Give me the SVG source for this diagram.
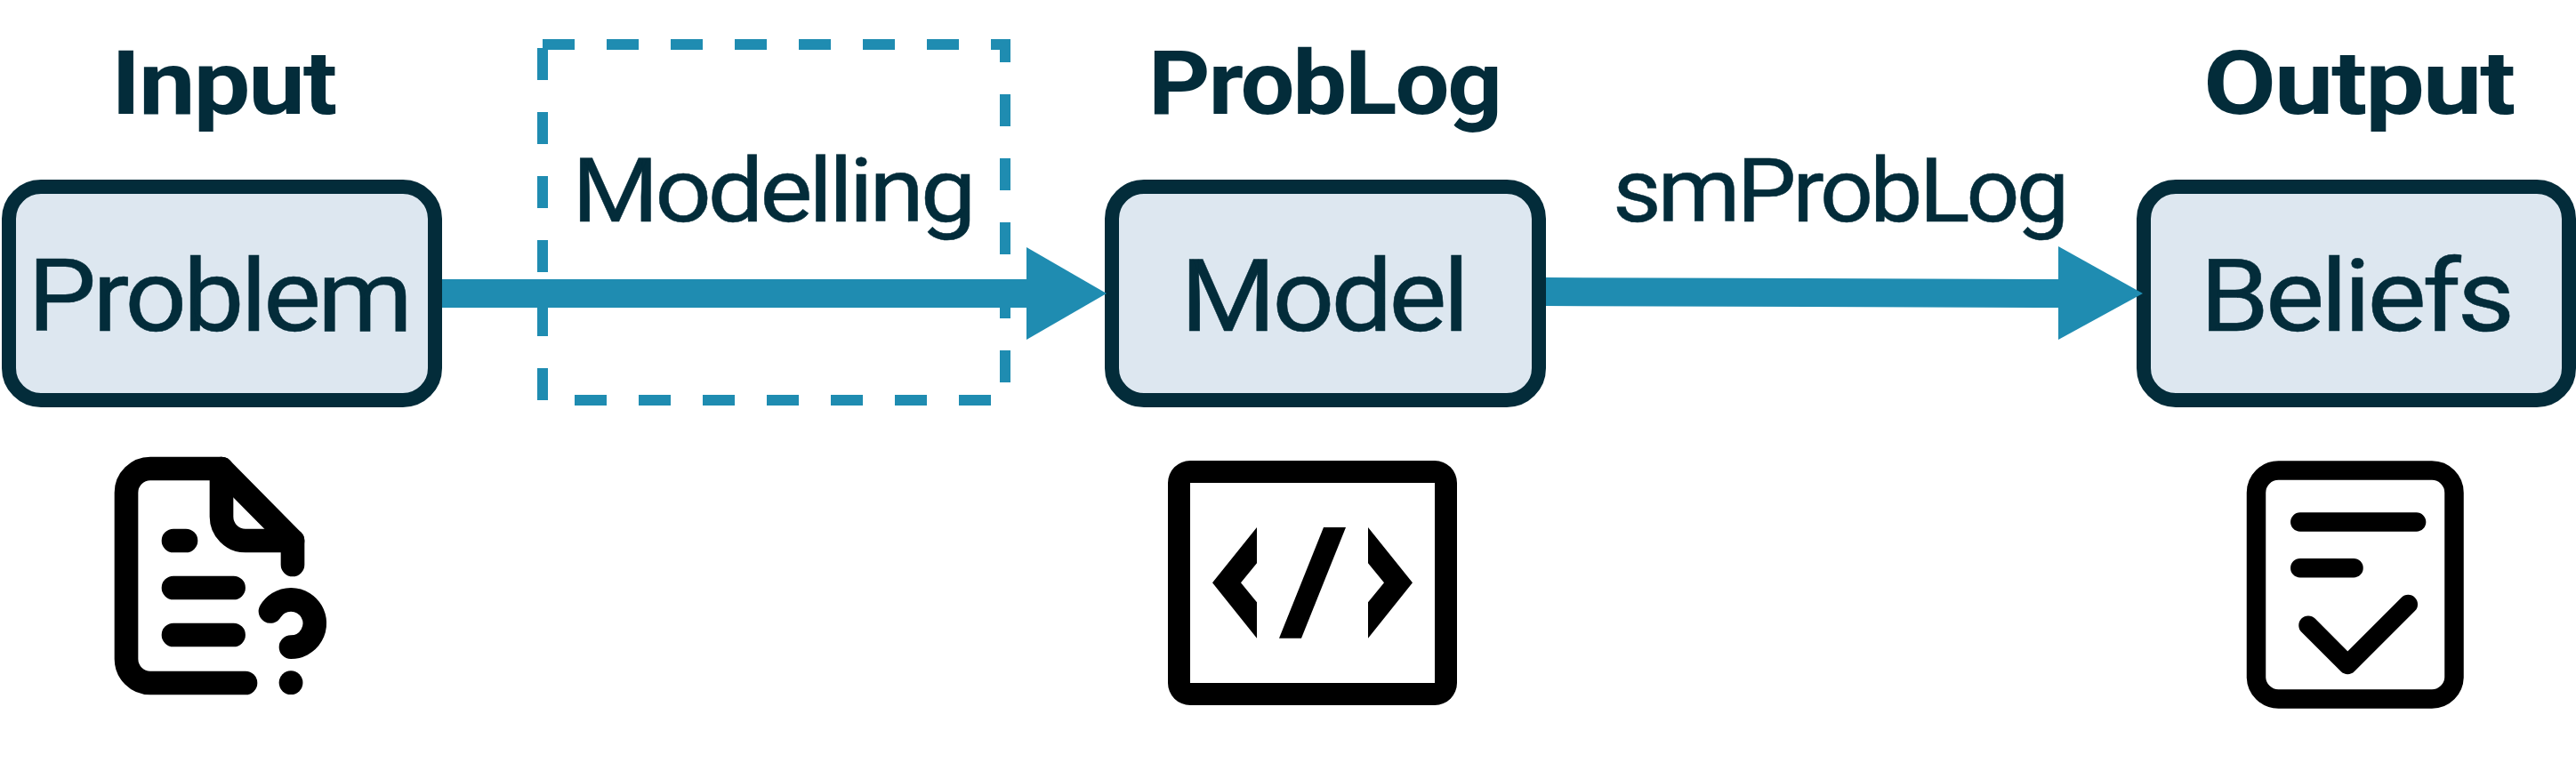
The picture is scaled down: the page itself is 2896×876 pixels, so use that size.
<svg xmlns="http://www.w3.org/2000/svg" width="2896" height="876" viewBox="0 0 2896 876">
<style>
.box{fill:#dde7f0;stroke:#032c3a;stroke-width:16}
.t{font-family:"Roboto","Noto Sans",sans-serif;fill:#032c3a}
.h{font-size:100px;font-weight:700;letter-spacing:-2px}
.n{font-size:114px;letter-spacing:-4px;stroke:#032c3a;stroke-width:.5px}
.l{font-size:100px;letter-spacing:-4px;stroke:#032c3a;stroke-width:.5px}
.c{fill:none;stroke:#1f8cb1}
.a{fill:#1f8cb1}
.i{fill:none;stroke:#000;stroke-linecap:round;stroke-linejoin:round}
</style>
<rect width="2896" height="876" fill="#fff"/>
<g id="modelling">
<rect class="c" x="610" y="50" width="520" height="400" stroke-width="12" stroke-dasharray="36 36"/>
<text class="t l" x="643" y="249" textLength="450" lengthAdjust="spacingAndGlyphs">Modelling</text>
</g>
<g id="input">
<text class="t h" x="125" y="128" textLength="252" lengthAdjust="spacingAndGlyphs">Input</text>
<rect class="box" x="10" y="210" width="479" height="240" rx="36" ry="36"/>
<text class="t n" x="31" y="372" textLength="429" lengthAdjust="spacingAndGlyphs">Problem</text>
<g id="icon-input" class="i" stroke-width="26.67">
<path d="M276 768H169a27 27 0 0 1 -27 -27V554a27 27 0 0 1 27 -27H249L329 608V635"/>
<path d="M249 527V581a27 27 0 0 0 27 27H329"/>
<path d="M195 608H209M195 661H262.6M195 714H262.6"/>
<path d="M327 727.7A26.7 26.7 0 1 0 304 687.5"/>
<path d="M327 767.7h.1"/>
</g>
</g>
<g id="problog">
<text class="t h" x="1291" y="128" textLength="396" lengthAdjust="spacingAndGlyphs">ProbLog</text>
<rect class="box" x="1250" y="210" width="480" height="240" rx="36" ry="36"/>
<text class="t n" x="1327" y="372" textLength="321" lengthAdjust="spacingAndGlyphs">Model</text>
<g id="icon-model">
<path fill-rule="evenodd" d="M1338 518H1613a25 25 0 0 1 25 25V768a25 25 0 0 1 -25 25H1338a25 25 0 0 1 -25 -25V543a25 25 0 0 1 25 -25ZM1338 543V768H1613V543Z"/>
<polygon points="1413,593 1363,655.3 1413,717.7 1413,677.3 1395,655.3 1413,633.3"/>
<polygon points="1488,593 1513,593 1463,717.7 1438,717.7"/>
<polygon points="1538,593 1588,655.3 1538,717.7 1538,677.3 1556,655.3 1538,633.3"/>
</g>
</g>
<g id="output">
<text class="t h" x="2477" y="128" textLength="349" lengthAdjust="spacingAndGlyphs">Output</text>
<rect class="box" x="2410" y="210" width="478" height="240" rx="36" ry="36"/>
<text class="t n" x="2473" y="372" textLength="350" lengthAdjust="spacingAndGlyphs">Beliefs</text>
<g id="icon-output" class="i" stroke-width="21.5">
<rect x="2536.5" y="529" width="222.5" height="257" rx="25" ry="25"/>
<path d="M2585.8 587H2716.6M2585.8 638.7H2646M2595 703.2L2639.3 747.5L2707.3 679.5"/>
</g>
</g>
<g id="connectors">
<path class="c" d="M497 330H1156" stroke-width="32"/>
<polygon class="a" points="1154,278 1244,330 1154,382"/>
<path class="a" d="M1738 312L2316 314V346L1738 344Z"/>
<polygon class="a" points="2314,277 2409,330 2314,382"/>
<text class="t l" x="1813" y="249" textLength="509" lengthAdjust="spacingAndGlyphs">smProbLog</text>
</g>
</svg>
